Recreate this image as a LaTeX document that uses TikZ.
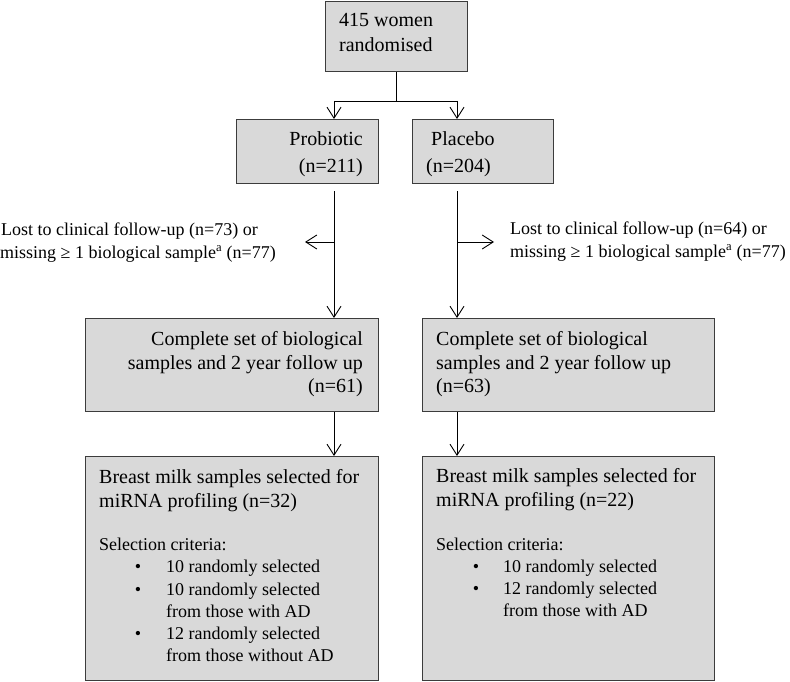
\documentclass[tikz,border=0pt]{standalone}
\usepackage{fontspec}
\setmainfont{Liberation Serif}
\usetikzlibrary{arrows.meta}
\definecolor{boxfill}{RGB}{217,217,217}
\definecolor{boxline}{RGB}{60,60,60}
\begin{document}
\begin{tikzpicture}[x=1pt,y=-1pt,
  box/.style={draw=boxline,fill=boxfill,line width=1pt,rectangle,inner sep=0pt,anchor=north west},
  bt/.style={font=\fontsize{20}{24}\selectfont,inner sep=0pt},
  st/.style={font=\fontsize{18}{21}\selectfont,inner sep=0pt},
  conn/.style={draw=black,line width=0.9pt},
  arr/.style={conn,-{Straight Barb[length=11pt,width=14pt]}}]
\useasboundingbox (0,0) rectangle (790,682);

% boxes
\node[box,minimum width=142pt,minimum height=70pt] (top) at (325,1) {};
\node[box,minimum width=142pt,minimum height=64pt] (prob) at (236,119) {};
\node[box,minimum width=141pt,minimum height=64pt] (plac) at (412,119) {};
\node[box,minimum width=293pt,minimum height=93pt] (compL) at (85,318) {};
\node[box,minimum width=292pt,minimum height=93pt] (compR) at (422,318) {};
\node[box,minimum width=293pt,minimum height=224pt] (bmL) at (85,456) {};
\node[box,minimum width=292pt,minimum height=224pt] (bmR) at (422,456) {};

% texts in boxes
\node[bt,anchor=base west] (top1) at (339,27) {415 women};
\node[bt,anchor=base west] (top2) at (339,52) {randomised};
\node[bt,anchor=base east] (prob1) at (363,146) {Probiotic};
\node[bt,anchor=base east] (prob2) at (363,172) {(n=211)};
\node[bt,anchor=base west] (plac1) at (431,146) {Placebo};
\node[bt,anchor=base west] (plac2) at (426,172) {(n=204)};

\node[bt,anchor=base east] (cl1) at (363,345) {Complete set of biological};
\node[bt,anchor=base east] (cl2) at (363,369) {samples and 2 year follow up};
\node[bt,anchor=base east] (cl3) at (363,392) {(n=61)};
\node[bt,anchor=base west] (cr1) at (436,345) {Complete set of biological};
\node[bt,anchor=base west] (cr2) at (436,369) {samples and 2 year follow up};
\node[bt,anchor=base west] (cr3) at (436,392) {(n=63)};

\node[bt,anchor=base west] (bl1) at (99,483) {Breast milk samples selected for};
\node[bt,anchor=base west] (bl2) at (99,507) {miRNA profiling (n=32)};
\node[st,anchor=base west] (bl3) at (99,550) {Selection criteria:};
\node[st,anchor=base] (blb1) at (138,572.5) {\textbullet};
\node[st,anchor=base west] (bl4) at (166,572.5) {10 randomly selected};
\node[st,anchor=base] (blb2) at (138,595) {\textbullet};
\node[st,anchor=base west] (bl5) at (166,595) {10 randomly selected};
\node[st,anchor=base west] (bl6) at (166,617) {from those with AD};
\node[st,anchor=base] (blb3) at (138,639.5) {\textbullet};
\node[st,anchor=base west] (bl7) at (166,639.5) {12 randomly selected};
\node[st,anchor=base west] (bl8) at (166,661) {from those without AD};

\node[bt,anchor=base west] (br1) at (436,482) {Breast milk samples selected for};
\node[bt,anchor=base west] (br2) at (436,506) {miRNA profiling (n=22)};
\node[st,anchor=base west] (br3) at (436,550) {Selection criteria:};
\node[st,anchor=base] (brb1) at (476,572) {\textbullet};
\node[st,anchor=base west] (br4) at (503,572) {10 randomly selected};
\node[st,anchor=base] (brb2) at (476,594) {\textbullet};
\node[st,anchor=base west] (br5) at (503,594) {12 randomly selected};
\node[st,anchor=base west] (br6) at (503,616) {from those with AD};

% side texts
\node[st,anchor=base west] (lostL1) at (1,235) {Lost to clinical follow-up (n=73) or};
\node[st,anchor=base west] (lostL2) at (0,258) {missing ≥ 1 biological sample\textsuperscript{a} (n=77)};
\node[st,anchor=base west] (lostR1) at (510,234) {Lost to clinical follow-up (n=64) or};
\node[st,anchor=base west] (lostR2) at (510,257) {missing ≥ 1 biological sample\textsuperscript{a} (n=77)};

% connectors
\coordinate (jt) at (396,101);
\coordinate (jl) at (334,101);
\coordinate (jr) at (457,101);
\draw[conn] (top.south -| jt) -- (jt);
\draw[conn] (jl) -- (jr);
\draw[arr] (jl) -- (jl |- prob.north);
\draw[arr] (jr) -- (jr |- plac.north);

\draw[arr,shorten <=7pt] (jl |- prob.south) -- (jl |- compL.north);
\draw[arr,shorten <=7pt] (jr |- plac.south) -- (jr |- compR.north);

\coordinate (brL) at (334,242);
\coordinate (tipL) at (305,242);
\coordinate (brR) at (457,242);
\coordinate (tipR) at (494,242);
\draw[arr] (brL) -- (tipL);
\draw[arr] (brR) -- (tipR);

\draw[arr] (jl |- compL.south) -- (jl |- bmL.north);
\draw[arr] (jr |- compR.south) -- (jr |- bmR.north);
\end{tikzpicture}
\end{document}
